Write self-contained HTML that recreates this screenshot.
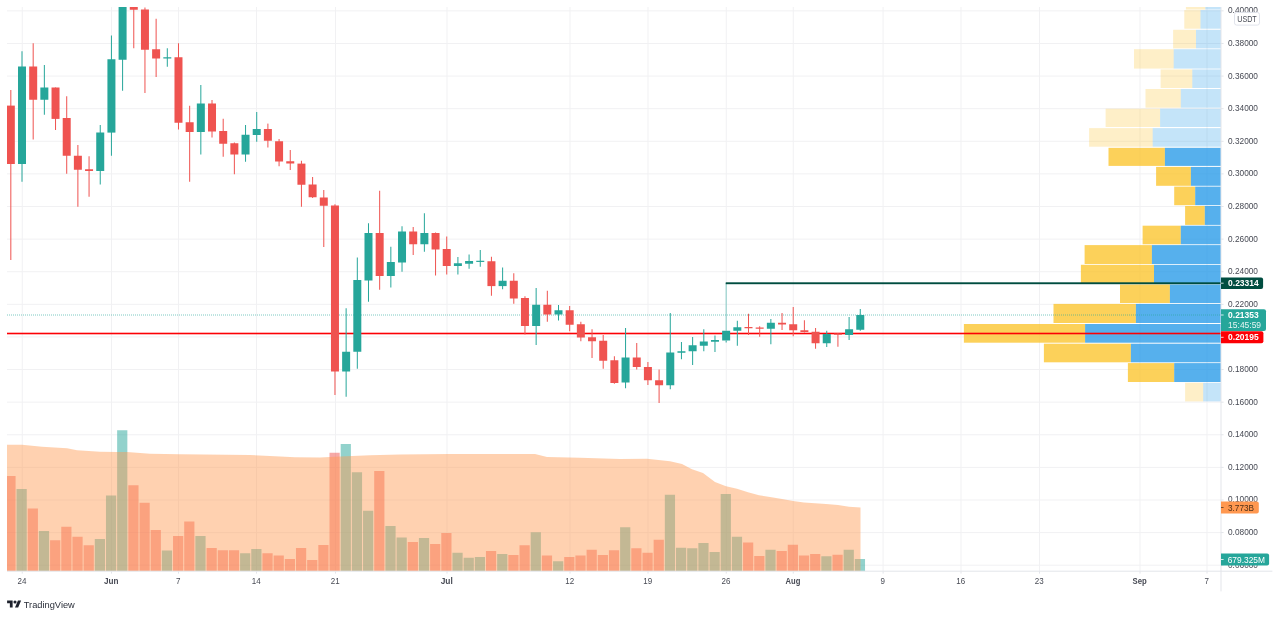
<!DOCTYPE html>
<html lang="en"><head><meta charset="utf-8"><title>TradingView chart</title>
<style>html,body{margin:0;padding:0;background:#fff;overflow:hidden}body{width:1280px;height:617px}svg{display:block}text{font-family:"Liberation Sans","DejaVu Sans",sans-serif}</style>
</head><body>
<svg width="1280" height="617" viewBox="0 0 1280 617">
<rect width="1280" height="617" fill="#fff"/>
<defs><clipPath id="cp"><rect x="7" y="7" width="1214" height="564.2"/></clipPath></defs>
<g stroke="#f1f1f3" stroke-width="1" shape-rendering="auto">
<line x1="7" y1="10.85" x2="1221" y2="10.85"/>
<line x1="7" y1="43.46" x2="1221" y2="43.46"/>
<line x1="7" y1="76.07" x2="1221" y2="76.07"/>
<line x1="7" y1="108.68" x2="1221" y2="108.68"/>
<line x1="7" y1="141.29" x2="1221" y2="141.29"/>
<line x1="7" y1="173.89" x2="1221" y2="173.89"/>
<line x1="7" y1="206.50" x2="1221" y2="206.50"/>
<line x1="7" y1="239.11" x2="1221" y2="239.11"/>
<line x1="7" y1="271.72" x2="1221" y2="271.72"/>
<line x1="7" y1="304.33" x2="1221" y2="304.33"/>
<line x1="7" y1="336.94" x2="1221" y2="336.94"/>
<line x1="7" y1="369.55" x2="1221" y2="369.55"/>
<line x1="7" y1="402.16" x2="1221" y2="402.16"/>
<line x1="7" y1="434.77" x2="1221" y2="434.77"/>
<line x1="7" y1="467.38" x2="1221" y2="467.38"/>
<line x1="7" y1="499.99" x2="1221" y2="499.99"/>
<line x1="7" y1="532.59" x2="1221" y2="532.59"/>
<line x1="7" y1="565.20" x2="1221" y2="565.20"/>
<line x1="22.25" y1="7" x2="22.25" y2="571.2"/>
<line x1="111.50" y1="7" x2="111.50" y2="571.2"/>
<line x1="178.50" y1="7" x2="178.50" y2="571.2"/>
<line x1="256.50" y1="7" x2="256.50" y2="571.2"/>
<line x1="335.50" y1="7" x2="335.50" y2="571.2"/>
<line x1="447.00" y1="7" x2="447.00" y2="571.2"/>
<line x1="570.00" y1="7" x2="570.00" y2="571.2"/>
<line x1="648.00" y1="7" x2="648.00" y2="571.2"/>
<line x1="726.25" y1="7" x2="726.25" y2="571.2"/>
<line x1="793.25" y1="7" x2="793.25" y2="571.2"/>
<line x1="883.10" y1="7" x2="883.10" y2="571.2"/>
<line x1="961.00" y1="7" x2="961.00" y2="571.2"/>
<line x1="1039.50" y1="7" x2="1039.50" y2="571.2"/>
<line x1="1140.00" y1="7" x2="1140.00" y2="571.2"/>
<line x1="1207.00" y1="7" x2="1207.00" y2="571.2"/>
</g>
<g clip-path="url(#cp)">
<rect x="1185.9" y="7.0" width="19.4" height="2.6" fill="rgba(251,193,35,0.25)"/>
<rect x="1205.3" y="7.0" width="15.7" height="2.6" fill="rgba(21,146,230,0.25)"/>
<rect x="1184.3" y="10.1" width="16.2" height="18.6" fill="rgba(251,193,35,0.25)"/>
<rect x="1200.5" y="10.1" width="20.5" height="18.6" fill="rgba(21,146,230,0.25)"/>
<rect x="1173.1" y="29.8" width="22.9" height="18.6" fill="rgba(251,193,35,0.25)"/>
<rect x="1196.0" y="29.8" width="25.0" height="18.6" fill="rgba(21,146,230,0.25)"/>
<rect x="1134.0" y="49.2" width="39.7" height="19.4" fill="rgba(251,193,35,0.25)"/>
<rect x="1173.7" y="49.2" width="47.3" height="19.4" fill="rgba(21,146,230,0.25)"/>
<rect x="1160.6" y="69.4" width="31.7" height="18.6" fill="rgba(251,193,35,0.25)"/>
<rect x="1192.3" y="69.4" width="28.7" height="18.6" fill="rgba(21,146,230,0.25)"/>
<rect x="1145.5" y="89.0" width="35.3" height="18.7" fill="rgba(251,193,35,0.25)"/>
<rect x="1180.8" y="89.0" width="40.2" height="18.7" fill="rgba(21,146,230,0.25)"/>
<rect x="1105.6" y="108.7" width="54.5" height="18.3" fill="rgba(251,193,35,0.25)"/>
<rect x="1160.1" y="108.7" width="60.9" height="18.3" fill="rgba(21,146,230,0.25)"/>
<rect x="1089.1" y="128.1" width="63.6" height="18.6" fill="rgba(251,193,35,0.25)"/>
<rect x="1152.7" y="128.1" width="68.3" height="18.6" fill="rgba(21,146,230,0.25)"/>
<rect x="1108.5" y="147.8" width="56.4" height="18.1" fill="rgba(251,193,35,0.75)"/>
<rect x="1164.9" y="147.8" width="56.1" height="18.1" fill="rgba(21,146,230,0.72)"/>
<rect x="1156.1" y="166.9" width="34.8" height="18.9" fill="rgba(251,193,35,0.75)"/>
<rect x="1190.9" y="166.9" width="30.1" height="18.9" fill="rgba(21,146,230,0.72)"/>
<rect x="1174.2" y="186.6" width="21.0" height="18.6" fill="rgba(251,193,35,0.75)"/>
<rect x="1195.2" y="186.6" width="25.8" height="18.6" fill="rgba(21,146,230,0.72)"/>
<rect x="1185.1" y="206.0" width="19.7" height="18.9" fill="rgba(251,193,35,0.75)"/>
<rect x="1204.8" y="206.0" width="16.2" height="18.9" fill="rgba(21,146,230,0.72)"/>
<rect x="1142.6" y="225.7" width="38.2" height="18.6" fill="rgba(251,193,35,0.75)"/>
<rect x="1180.8" y="225.7" width="40.2" height="18.6" fill="rgba(21,146,230,0.72)"/>
<rect x="1084.6" y="245.1" width="67.3" height="18.9" fill="rgba(251,193,35,0.75)"/>
<rect x="1151.9" y="245.1" width="69.1" height="18.9" fill="rgba(21,146,230,0.72)"/>
<rect x="1080.9" y="264.8" width="73.1" height="18.6" fill="rgba(251,193,35,0.75)"/>
<rect x="1154.0" y="264.8" width="67.0" height="18.6" fill="rgba(21,146,230,0.72)"/>
<rect x="1120.0" y="284.5" width="49.9" height="18.5" fill="rgba(251,193,35,0.75)"/>
<rect x="1169.9" y="284.5" width="51.1" height="18.5" fill="rgba(21,146,230,0.72)"/>
<rect x="1053.5" y="303.9" width="82.4" height="19.1" fill="rgba(251,193,35,0.75)"/>
<rect x="1135.9" y="303.9" width="85.1" height="19.1" fill="rgba(21,146,230,0.72)"/>
<rect x="963.9" y="324.0" width="121.2" height="18.7" fill="rgba(251,193,35,0.75)"/>
<rect x="1085.1" y="324.0" width="135.9" height="18.7" fill="rgba(21,146,230,0.72)"/>
<rect x="1043.9" y="343.7" width="87.0" height="18.6" fill="rgba(251,193,35,0.75)"/>
<rect x="1130.9" y="343.7" width="90.1" height="18.6" fill="rgba(21,146,230,0.72)"/>
<rect x="1127.9" y="363.1" width="46.3" height="18.9" fill="rgba(251,193,35,0.75)"/>
<rect x="1174.2" y="363.1" width="46.8" height="18.9" fill="rgba(21,146,230,0.72)"/>
<rect x="1185.1" y="382.8" width="18.1" height="18.6" fill="rgba(251,193,35,0.25)"/>
<rect x="1203.2" y="382.8" width="17.8" height="18.6" fill="rgba(21,146,230,0.25)"/>
<rect x="5.37" y="476.00" width="10.2" height="95.20" fill="rgba(239,83,80,0.5)"/>
<rect x="16.55" y="489.00" width="10.2" height="82.20" fill="rgba(38,166,154,0.5)"/>
<rect x="27.73" y="508.50" width="10.2" height="62.70" fill="rgba(239,83,80,0.5)"/>
<rect x="38.90" y="531.00" width="10.2" height="40.20" fill="rgba(38,166,154,0.5)"/>
<rect x="50.08" y="540.25" width="10.2" height="30.95" fill="rgba(239,83,80,0.5)"/>
<rect x="61.26" y="526.75" width="10.2" height="44.45" fill="rgba(239,83,80,0.5)"/>
<rect x="72.43" y="536.75" width="10.2" height="34.45" fill="rgba(239,83,80,0.5)"/>
<rect x="83.61" y="545.25" width="10.2" height="25.95" fill="rgba(239,83,80,0.5)"/>
<rect x="94.79" y="539.00" width="10.2" height="32.20" fill="rgba(38,166,154,0.5)"/>
<rect x="105.97" y="495.50" width="10.2" height="75.70" fill="rgba(38,166,154,0.5)"/>
<rect x="117.14" y="430.25" width="10.2" height="140.95" fill="rgba(38,166,154,0.5)"/>
<rect x="128.32" y="485.25" width="10.2" height="85.95" fill="rgba(239,83,80,0.5)"/>
<rect x="139.50" y="502.75" width="10.2" height="68.45" fill="rgba(239,83,80,0.5)"/>
<rect x="150.67" y="530.00" width="10.2" height="41.20" fill="rgba(239,83,80,0.5)"/>
<rect x="161.85" y="550.50" width="10.2" height="20.70" fill="rgba(38,166,154,0.5)"/>
<rect x="173.03" y="536.00" width="10.2" height="35.20" fill="rgba(239,83,80,0.5)"/>
<rect x="184.21" y="521.50" width="10.2" height="49.70" fill="rgba(239,83,80,0.5)"/>
<rect x="195.38" y="536.00" width="10.2" height="35.20" fill="rgba(38,166,154,0.5)"/>
<rect x="206.56" y="548.00" width="10.2" height="23.20" fill="rgba(239,83,80,0.5)"/>
<rect x="217.74" y="550.25" width="10.2" height="20.95" fill="rgba(239,83,80,0.5)"/>
<rect x="228.91" y="550.25" width="10.2" height="20.95" fill="rgba(239,83,80,0.5)"/>
<rect x="240.09" y="553.25" width="10.2" height="17.95" fill="rgba(38,166,154,0.5)"/>
<rect x="251.27" y="549.00" width="10.2" height="22.20" fill="rgba(38,166,154,0.5)"/>
<rect x="262.44" y="553.25" width="10.2" height="17.95" fill="rgba(239,83,80,0.5)"/>
<rect x="273.62" y="555.50" width="10.2" height="15.70" fill="rgba(239,83,80,0.5)"/>
<rect x="284.80" y="559.00" width="10.2" height="12.20" fill="rgba(239,83,80,0.5)"/>
<rect x="295.98" y="548.00" width="10.2" height="23.20" fill="rgba(239,83,80,0.5)"/>
<rect x="307.15" y="560.00" width="10.2" height="11.20" fill="rgba(239,83,80,0.5)"/>
<rect x="318.33" y="545.00" width="10.2" height="26.20" fill="rgba(239,83,80,0.5)"/>
<rect x="329.51" y="452.75" width="10.2" height="118.45" fill="rgba(239,83,80,0.5)"/>
<rect x="340.68" y="444.00" width="10.2" height="127.20" fill="rgba(38,166,154,0.5)"/>
<rect x="351.86" y="472.25" width="10.2" height="98.95" fill="rgba(38,166,154,0.5)"/>
<rect x="363.04" y="510.75" width="10.2" height="60.45" fill="rgba(38,166,154,0.5)"/>
<rect x="374.21" y="471.00" width="10.2" height="100.20" fill="rgba(239,83,80,0.5)"/>
<rect x="385.39" y="526.00" width="10.2" height="45.20" fill="rgba(38,166,154,0.5)"/>
<rect x="396.57" y="537.50" width="10.2" height="33.70" fill="rgba(38,166,154,0.5)"/>
<rect x="407.75" y="542.00" width="10.2" height="29.20" fill="rgba(239,83,80,0.5)"/>
<rect x="418.92" y="538.00" width="10.2" height="33.20" fill="rgba(38,166,154,0.5)"/>
<rect x="430.10" y="544.00" width="10.2" height="27.20" fill="rgba(239,83,80,0.5)"/>
<rect x="441.28" y="533.00" width="10.2" height="38.20" fill="rgba(239,83,80,0.5)"/>
<rect x="452.45" y="552.75" width="10.2" height="18.45" fill="rgba(38,166,154,0.5)"/>
<rect x="463.63" y="557.75" width="10.2" height="13.45" fill="rgba(38,166,154,0.5)"/>
<rect x="474.81" y="557.00" width="10.2" height="14.20" fill="rgba(38,166,154,0.5)"/>
<rect x="485.98" y="551.00" width="10.2" height="20.20" fill="rgba(239,83,80,0.5)"/>
<rect x="497.16" y="554.00" width="10.2" height="17.20" fill="rgba(38,166,154,0.5)"/>
<rect x="508.34" y="555.00" width="10.2" height="16.20" fill="rgba(239,83,80,0.5)"/>
<rect x="519.51" y="545.25" width="10.2" height="25.95" fill="rgba(239,83,80,0.5)"/>
<rect x="530.69" y="532.25" width="10.2" height="38.95" fill="rgba(38,166,154,0.5)"/>
<rect x="541.87" y="555.50" width="10.2" height="15.70" fill="rgba(239,83,80,0.5)"/>
<rect x="553.05" y="561.25" width="10.2" height="9.95" fill="rgba(38,166,154,0.5)"/>
<rect x="564.22" y="557.00" width="10.2" height="14.20" fill="rgba(239,83,80,0.5)"/>
<rect x="575.40" y="555.50" width="10.2" height="15.70" fill="rgba(239,83,80,0.5)"/>
<rect x="586.58" y="549.75" width="10.2" height="21.45" fill="rgba(239,83,80,0.5)"/>
<rect x="597.75" y="555.00" width="10.2" height="16.20" fill="rgba(239,83,80,0.5)"/>
<rect x="608.93" y="550.25" width="10.2" height="20.95" fill="rgba(239,83,80,0.5)"/>
<rect x="620.11" y="527.25" width="10.2" height="43.95" fill="rgba(38,166,154,0.5)"/>
<rect x="631.28" y="548.25" width="10.2" height="22.95" fill="rgba(239,83,80,0.5)"/>
<rect x="642.46" y="552.75" width="10.2" height="18.45" fill="rgba(239,83,80,0.5)"/>
<rect x="653.64" y="539.75" width="10.2" height="31.45" fill="rgba(239,83,80,0.5)"/>
<rect x="664.82" y="494.75" width="10.2" height="76.45" fill="rgba(38,166,154,0.5)"/>
<rect x="675.99" y="547.75" width="10.2" height="23.45" fill="rgba(38,166,154,0.5)"/>
<rect x="687.17" y="548.25" width="10.2" height="22.95" fill="rgba(38,166,154,0.5)"/>
<rect x="698.35" y="543.00" width="10.2" height="28.20" fill="rgba(38,166,154,0.5)"/>
<rect x="709.52" y="552.00" width="10.2" height="19.20" fill="rgba(38,166,154,0.5)"/>
<rect x="720.70" y="494.00" width="10.2" height="77.20" fill="rgba(38,166,154,0.5)"/>
<rect x="731.88" y="536.75" width="10.2" height="34.45" fill="rgba(38,166,154,0.5)"/>
<rect x="743.05" y="542.50" width="10.2" height="28.70" fill="rgba(239,83,80,0.5)"/>
<rect x="754.23" y="556.00" width="10.2" height="15.20" fill="rgba(239,83,80,0.5)"/>
<rect x="765.41" y="549.75" width="10.2" height="21.45" fill="rgba(38,166,154,0.5)"/>
<rect x="776.59" y="551.00" width="10.2" height="20.20" fill="rgba(239,83,80,0.5)"/>
<rect x="787.76" y="544.75" width="10.2" height="26.45" fill="rgba(239,83,80,0.5)"/>
<rect x="798.94" y="555.50" width="10.2" height="15.70" fill="rgba(239,83,80,0.5)"/>
<rect x="810.12" y="554.00" width="10.2" height="17.20" fill="rgba(239,83,80,0.5)"/>
<rect x="821.29" y="556.25" width="10.2" height="14.95" fill="rgba(38,166,154,0.5)"/>
<rect x="832.47" y="554.75" width="10.2" height="16.45" fill="rgba(239,83,80,0.5)"/>
<rect x="843.65" y="549.75" width="10.2" height="21.45" fill="rgba(38,166,154,0.5)"/>
<rect x="854.82" y="559.00" width="10.2" height="12.20" fill="rgba(38,166,154,0.5)"/>
<polygon points="7,444.75 22,444.75 42,446.75 67,448.25 77,450.25 100,451.75 117,452 127,452 150,453.75 180,454.25 250,455 275,456.25 295,457.25 320,457.5 335,456.75 370,455.25 400,454.5 450,454 535,454 547,457 580,457.75 620,459 647,458.75 670,461.25 682,464 692,469.25 703,473 715,482 726,486.25 737,488.75 748,492.25 759,495.25 770,497 782,499 793,501 804,502.5 815,503.25 826,504 838,505 849,506.75 860.5,507.5 860.5,571.2 7,571.2" fill="rgba(255,152,80,0.45)"/>
<line x1="7" y1="315" x2="1221" y2="315" stroke="#26a69a" stroke-opacity="0.6" stroke-width="1" stroke-dasharray="1 1"/>
<rect x="0" y="332.7" width="1221" height="1.6" fill="#fc0005"/>
<rect x="10.32" y="90.00" width="1" height="170.00" fill="#ef5350"/>
<rect x="6.82" y="105.60" width="8" height="58.40" fill="#ef5350"/>
<rect x="21.50" y="51.25" width="1" height="130.50" fill="#26a69a"/>
<rect x="18.00" y="66.50" width="8" height="97.50" fill="#26a69a"/>
<rect x="32.68" y="43.25" width="1" height="96.25" fill="#ef5350"/>
<rect x="29.18" y="66.50" width="8" height="33.25" fill="#ef5350"/>
<rect x="43.85" y="65.00" width="1" height="49.75" fill="#26a69a"/>
<rect x="40.35" y="87.50" width="8" height="12.25" fill="#26a69a"/>
<rect x="55.03" y="87.50" width="1" height="42.50" fill="#ef5350"/>
<rect x="51.53" y="87.50" width="8" height="31.40" fill="#ef5350"/>
<rect x="66.21" y="96.25" width="1" height="77.50" fill="#ef5350"/>
<rect x="62.71" y="118.00" width="8" height="37.75" fill="#ef5350"/>
<rect x="77.38" y="145.00" width="1" height="61.75" fill="#ef5350"/>
<rect x="73.88" y="155.75" width="8" height="14.00" fill="#ef5350"/>
<rect x="88.56" y="156.25" width="1" height="40.50" fill="#ef5350"/>
<rect x="85.06" y="169.25" width="8" height="1.75" fill="#ef5350"/>
<rect x="99.74" y="125.00" width="1" height="59.50" fill="#26a69a"/>
<rect x="96.24" y="132.50" width="8" height="38.50" fill="#26a69a"/>
<rect x="110.92" y="35.50" width="1" height="120.25" fill="#26a69a"/>
<rect x="107.42" y="59.25" width="8" height="73.35" fill="#26a69a"/>
<rect x="122.09" y="0.00" width="1" height="90.75" fill="#26a69a"/>
<rect x="118.59" y="0.00" width="8" height="59.75" fill="#26a69a"/>
<rect x="133.27" y="0.00" width="1" height="48.25" fill="#ef5350"/>
<rect x="129.77" y="0.00" width="8" height="9.75" fill="#ef5350"/>
<rect x="144.45" y="7.50" width="1" height="85.50" fill="#ef5350"/>
<rect x="140.95" y="9.50" width="8" height="40.25" fill="#ef5350"/>
<rect x="155.62" y="18.75" width="1" height="58.25" fill="#ef5350"/>
<rect x="152.12" y="49.25" width="8" height="9.25" fill="#ef5350"/>
<rect x="166.80" y="48.25" width="1" height="18.50" fill="#26a69a"/>
<rect x="163.30" y="57.25" width="8" height="1.25" fill="#26a69a"/>
<rect x="177.98" y="43.25" width="1" height="86.25" fill="#ef5350"/>
<rect x="174.48" y="57.25" width="8" height="65.50" fill="#ef5350"/>
<rect x="189.16" y="105.75" width="1" height="76.00" fill="#ef5350"/>
<rect x="185.66" y="122.25" width="8" height="9.75" fill="#ef5350"/>
<rect x="200.33" y="85.00" width="1" height="69.50" fill="#26a69a"/>
<rect x="196.83" y="103.50" width="8" height="28.50" fill="#26a69a"/>
<rect x="211.51" y="100.00" width="1" height="37.50" fill="#ef5350"/>
<rect x="208.01" y="103.50" width="8" height="28.00" fill="#ef5350"/>
<rect x="222.69" y="118.75" width="1" height="38.00" fill="#ef5350"/>
<rect x="219.19" y="131.00" width="8" height="12.75" fill="#ef5350"/>
<rect x="233.86" y="142.50" width="1" height="31.75" fill="#ef5350"/>
<rect x="230.36" y="143.25" width="8" height="11.25" fill="#ef5350"/>
<rect x="245.04" y="125.00" width="1" height="36.75" fill="#26a69a"/>
<rect x="241.54" y="134.75" width="8" height="19.75" fill="#26a69a"/>
<rect x="256.22" y="112.00" width="1" height="29.75" fill="#26a69a"/>
<rect x="252.72" y="129.00" width="8" height="6.00" fill="#26a69a"/>
<rect x="267.39" y="123.60" width="1" height="23.90" fill="#ef5350"/>
<rect x="263.89" y="129.00" width="8" height="11.75" fill="#ef5350"/>
<rect x="278.57" y="139.00" width="1" height="27.25" fill="#ef5350"/>
<rect x="275.07" y="141.25" width="8" height="20.25" fill="#ef5350"/>
<rect x="289.75" y="150.00" width="1" height="20.00" fill="#ef5350"/>
<rect x="286.25" y="161.25" width="8" height="2.25" fill="#ef5350"/>
<rect x="300.93" y="160.75" width="1" height="46.00" fill="#ef5350"/>
<rect x="297.43" y="163.60" width="8" height="21.15" fill="#ef5350"/>
<rect x="312.10" y="177.00" width="1" height="21.00" fill="#ef5350"/>
<rect x="308.60" y="184.50" width="8" height="12.75" fill="#ef5350"/>
<rect x="323.28" y="190.00" width="1" height="57.00" fill="#ef5350"/>
<rect x="319.78" y="197.50" width="8" height="8.25" fill="#ef5350"/>
<rect x="334.46" y="204.25" width="1" height="190.75" fill="#ef5350"/>
<rect x="330.96" y="205.50" width="8" height="166.00" fill="#ef5350"/>
<rect x="345.63" y="308.25" width="1" height="88.50" fill="#26a69a"/>
<rect x="342.13" y="351.75" width="8" height="19.75" fill="#26a69a"/>
<rect x="356.81" y="257.50" width="1" height="111.25" fill="#26a69a"/>
<rect x="353.31" y="280.00" width="8" height="71.75" fill="#26a69a"/>
<rect x="367.99" y="223.25" width="1" height="78.50" fill="#26a69a"/>
<rect x="364.49" y="233.00" width="8" height="47.50" fill="#26a69a"/>
<rect x="379.16" y="190.75" width="1" height="99.00" fill="#ef5350"/>
<rect x="375.66" y="233.00" width="8" height="43.00" fill="#ef5350"/>
<rect x="390.34" y="246.75" width="1" height="40.75" fill="#26a69a"/>
<rect x="386.84" y="262.00" width="8" height="14.00" fill="#26a69a"/>
<rect x="401.52" y="226.25" width="1" height="45.50" fill="#26a69a"/>
<rect x="398.02" y="231.50" width="8" height="31.00" fill="#26a69a"/>
<rect x="412.69" y="227.00" width="1" height="28.00" fill="#ef5350"/>
<rect x="409.19" y="231.50" width="8" height="12.75" fill="#ef5350"/>
<rect x="423.87" y="213.25" width="1" height="38.50" fill="#26a69a"/>
<rect x="420.37" y="233.00" width="8" height="11.25" fill="#26a69a"/>
<rect x="435.05" y="232.50" width="1" height="43.00" fill="#ef5350"/>
<rect x="431.55" y="233.00" width="8" height="16.50" fill="#ef5350"/>
<rect x="446.23" y="236.50" width="1" height="38.00" fill="#ef5350"/>
<rect x="442.73" y="249.00" width="8" height="17.00" fill="#ef5350"/>
<rect x="457.40" y="257.00" width="1" height="17.50" fill="#26a69a"/>
<rect x="453.90" y="263.25" width="8" height="2.75" fill="#26a69a"/>
<rect x="468.58" y="254.50" width="1" height="14.25" fill="#26a69a"/>
<rect x="465.08" y="261.00" width="8" height="2.75" fill="#26a69a"/>
<rect x="479.76" y="250.00" width="1" height="16.75" fill="#26a69a"/>
<rect x="476.26" y="260.75" width="8" height="1.20" fill="#26a69a"/>
<rect x="490.93" y="256.75" width="1" height="39.00" fill="#ef5350"/>
<rect x="487.43" y="261.25" width="8" height="24.85" fill="#ef5350"/>
<rect x="502.11" y="267.50" width="1" height="21.75" fill="#26a69a"/>
<rect x="498.61" y="280.75" width="8" height="5.35" fill="#26a69a"/>
<rect x="513.29" y="273.25" width="1" height="30.50" fill="#ef5350"/>
<rect x="509.79" y="280.75" width="8" height="17.75" fill="#ef5350"/>
<rect x="524.46" y="296.25" width="1" height="38.25" fill="#ef5350"/>
<rect x="520.96" y="298.00" width="8" height="28.00" fill="#ef5350"/>
<rect x="535.64" y="288.00" width="1" height="57.00" fill="#26a69a"/>
<rect x="532.14" y="304.75" width="8" height="21.25" fill="#26a69a"/>
<rect x="546.82" y="290.75" width="1" height="31.00" fill="#ef5350"/>
<rect x="543.32" y="304.75" width="8" height="9.75" fill="#ef5350"/>
<rect x="558.00" y="305.00" width="1" height="15.50" fill="#26a69a"/>
<rect x="554.50" y="310.25" width="8" height="4.25" fill="#26a69a"/>
<rect x="569.17" y="306.00" width="1" height="25.25" fill="#ef5350"/>
<rect x="565.67" y="310.25" width="8" height="14.50" fill="#ef5350"/>
<rect x="580.35" y="321.75" width="1" height="19.50" fill="#ef5350"/>
<rect x="576.85" y="324.25" width="8" height="13.25" fill="#ef5350"/>
<rect x="591.53" y="329.25" width="1" height="28.75" fill="#ef5350"/>
<rect x="588.03" y="337.25" width="8" height="4.00" fill="#ef5350"/>
<rect x="602.70" y="335.00" width="1" height="33.75" fill="#ef5350"/>
<rect x="599.20" y="340.75" width="8" height="20.00" fill="#ef5350"/>
<rect x="613.88" y="356.25" width="1" height="27.50" fill="#ef5350"/>
<rect x="610.38" y="360.25" width="8" height="22.75" fill="#ef5350"/>
<rect x="625.06" y="328.00" width="1" height="60.25" fill="#26a69a"/>
<rect x="621.56" y="357.50" width="8" height="25.00" fill="#26a69a"/>
<rect x="636.24" y="343.00" width="1" height="26.50" fill="#ef5350"/>
<rect x="632.74" y="357.50" width="8" height="9.50" fill="#ef5350"/>
<rect x="647.41" y="362.00" width="1" height="23.00" fill="#ef5350"/>
<rect x="643.91" y="367.00" width="8" height="13.25" fill="#ef5350"/>
<rect x="658.59" y="369.50" width="1" height="33.50" fill="#ef5350"/>
<rect x="655.09" y="380.25" width="8" height="5.00" fill="#ef5350"/>
<rect x="669.77" y="313.00" width="1" height="76.25" fill="#26a69a"/>
<rect x="666.27" y="352.50" width="8" height="32.75" fill="#26a69a"/>
<rect x="680.94" y="342.00" width="1" height="17.25" fill="#26a69a"/>
<rect x="677.44" y="351.25" width="8" height="1.50" fill="#26a69a"/>
<rect x="692.12" y="337.00" width="1" height="28.00" fill="#26a69a"/>
<rect x="688.62" y="345.25" width="8" height="6.00" fill="#26a69a"/>
<rect x="703.30" y="329.25" width="1" height="22.00" fill="#26a69a"/>
<rect x="699.80" y="341.50" width="8" height="4.25" fill="#26a69a"/>
<rect x="714.47" y="335.50" width="1" height="16.50" fill="#26a69a"/>
<rect x="710.97" y="340.00" width="8" height="1.75" fill="#26a69a"/>
<rect x="725.65" y="283.00" width="1" height="47.75" fill="#26a69a" fill-opacity="0.55"/>
<rect x="725.65" y="340.50" width="1" height="2.00" fill="#26a69a"/>
<rect x="722.15" y="330.75" width="8" height="9.75" fill="#26a69a"/>
<rect x="736.83" y="320.75" width="1" height="25.00" fill="#26a69a"/>
<rect x="733.33" y="327.25" width="8" height="3.50" fill="#26a69a"/>
<rect x="748.00" y="313.75" width="1" height="21.25" fill="#ef5350"/>
<rect x="744.50" y="327.00" width="8" height="1.25" fill="#ef5350"/>
<rect x="759.18" y="326.25" width="1" height="10.50" fill="#ef5350"/>
<rect x="755.68" y="327.50" width="8" height="1.25" fill="#ef5350"/>
<rect x="770.36" y="319.00" width="1" height="25.25" fill="#26a69a"/>
<rect x="766.86" y="322.75" width="8" height="6.00" fill="#26a69a"/>
<rect x="781.54" y="313.00" width="1" height="17.00" fill="#ef5350"/>
<rect x="778.04" y="322.75" width="8" height="1.75" fill="#ef5350"/>
<rect x="792.71" y="307.00" width="1" height="29.25" fill="#ef5350"/>
<rect x="789.21" y="324.25" width="8" height="6.00" fill="#ef5350"/>
<rect x="803.89" y="320.25" width="1" height="12.25" fill="#ef5350"/>
<rect x="800.39" y="330.25" width="8" height="1.75" fill="#ef5350"/>
<rect x="815.07" y="328.00" width="1" height="20.75" fill="#ef5350"/>
<rect x="811.57" y="331.75" width="8" height="11.50" fill="#ef5350"/>
<rect x="826.24" y="330.75" width="1" height="16.25" fill="#26a69a"/>
<rect x="822.74" y="334.00" width="8" height="9.25" fill="#26a69a"/>
<rect x="837.42" y="333.00" width="1" height="13.75" fill="#ef5350"/>
<rect x="833.92" y="333.50" width="8" height="1.25" fill="#ef5350"/>
<rect x="848.60" y="317.00" width="1" height="23.00" fill="#26a69a"/>
<rect x="845.10" y="329.25" width="8" height="5.75" fill="#26a69a"/>
<rect x="859.77" y="309.00" width="1" height="21.75" fill="#26a69a"/>
<rect x="856.27" y="315.00" width="8" height="14.75" fill="#26a69a"/>
<rect x="725.75" y="282.3" width="496" height="1.9" fill="#004d40"/>
</g>
<g stroke="#e3e5ea" stroke-width="1">
<line x1="7" y1="571.2" x2="1272.4" y2="571.2"/>
<line x1="1221" y1="7" x2="1221" y2="591.4"/>
</g>
<g stroke="#e3e5ea" stroke-width="1">
<line x1="22.25" y1="571.2" x2="22.25" y2="573.6"/>
<line x1="111.50" y1="571.2" x2="111.50" y2="573.6"/>
<line x1="178.50" y1="571.2" x2="178.50" y2="573.6"/>
<line x1="256.50" y1="571.2" x2="256.50" y2="573.6"/>
<line x1="335.50" y1="571.2" x2="335.50" y2="573.6"/>
<line x1="447.00" y1="571.2" x2="447.00" y2="573.6"/>
<line x1="570.00" y1="571.2" x2="570.00" y2="573.6"/>
<line x1="648.00" y1="571.2" x2="648.00" y2="573.6"/>
<line x1="726.25" y1="571.2" x2="726.25" y2="573.6"/>
<line x1="793.25" y1="571.2" x2="793.25" y2="573.6"/>
<line x1="883.10" y1="571.2" x2="883.10" y2="573.6"/>
<line x1="961.00" y1="571.2" x2="961.00" y2="573.6"/>
<line x1="1039.50" y1="571.2" x2="1039.50" y2="573.6"/>
<line x1="1140.00" y1="571.2" x2="1140.00" y2="573.6"/>
<line x1="1207.00" y1="571.2" x2="1207.00" y2="573.6"/>
<line x1="1221" y1="10.85" x2="1223.6" y2="10.85"/>
<line x1="1221" y1="43.46" x2="1223.6" y2="43.46"/>
<line x1="1221" y1="76.07" x2="1223.6" y2="76.07"/>
<line x1="1221" y1="108.68" x2="1223.6" y2="108.68"/>
<line x1="1221" y1="141.29" x2="1223.6" y2="141.29"/>
<line x1="1221" y1="173.89" x2="1223.6" y2="173.89"/>
<line x1="1221" y1="206.50" x2="1223.6" y2="206.50"/>
<line x1="1221" y1="239.11" x2="1223.6" y2="239.11"/>
<line x1="1221" y1="271.72" x2="1223.6" y2="271.72"/>
<line x1="1221" y1="304.33" x2="1223.6" y2="304.33"/>
<line x1="1221" y1="336.94" x2="1223.6" y2="336.94"/>
<line x1="1221" y1="369.55" x2="1223.6" y2="369.55"/>
<line x1="1221" y1="402.16" x2="1223.6" y2="402.16"/>
<line x1="1221" y1="434.77" x2="1223.6" y2="434.77"/>
<line x1="1221" y1="467.38" x2="1223.6" y2="467.38"/>
<line x1="1221" y1="499.99" x2="1223.6" y2="499.99"/>
<line x1="1221" y1="532.59" x2="1223.6" y2="532.59"/>
<line x1="1221" y1="565.20" x2="1223.6" y2="565.20"/>
</g>
<text x="17.50" y="584" font-size="9" textLength="8.90" lengthAdjust="spacingAndGlyphs" fill="#474a54">24</text>
<text x="103.95" y="584" font-size="9" textLength="14.50" lengthAdjust="spacingAndGlyphs" fill="#474a54" font-weight="700">Jun</text>
<text x="175.97" y="584" font-size="9" textLength="4.45" lengthAdjust="spacingAndGlyphs" fill="#474a54">7</text>
<text x="251.75" y="584" font-size="9" textLength="8.90" lengthAdjust="spacingAndGlyphs" fill="#474a54">14</text>
<text x="330.75" y="584" font-size="9" textLength="8.90" lengthAdjust="spacingAndGlyphs" fill="#474a54">21</text>
<text x="440.65" y="584" font-size="9" textLength="12.10" lengthAdjust="spacingAndGlyphs" fill="#474a54" font-weight="700">Jul</text>
<text x="565.25" y="584" font-size="9" textLength="8.90" lengthAdjust="spacingAndGlyphs" fill="#474a54">12</text>
<text x="643.25" y="584" font-size="9" textLength="8.90" lengthAdjust="spacingAndGlyphs" fill="#474a54">19</text>
<text x="721.50" y="584" font-size="9" textLength="8.90" lengthAdjust="spacingAndGlyphs" fill="#474a54">26</text>
<text x="785.55" y="584" font-size="9" textLength="14.80" lengthAdjust="spacingAndGlyphs" fill="#474a54" font-weight="700">Aug</text>
<text x="880.58" y="584" font-size="9" textLength="4.45" lengthAdjust="spacingAndGlyphs" fill="#474a54">9</text>
<text x="956.25" y="584" font-size="9" textLength="8.90" lengthAdjust="spacingAndGlyphs" fill="#474a54">16</text>
<text x="1034.75" y="584" font-size="9" textLength="8.90" lengthAdjust="spacingAndGlyphs" fill="#474a54">23</text>
<text x="1132.60" y="584" font-size="9" textLength="14.20" lengthAdjust="spacingAndGlyphs" fill="#474a54" font-weight="700">Sep</text>
<text x="1204.48" y="584" font-size="9" textLength="4.45" lengthAdjust="spacingAndGlyphs" fill="#474a54">7</text>
<text x="1228" y="13" font-size="9" textLength="30" lengthAdjust="spacingAndGlyphs" fill="#474a54">0.40000</text>
<text x="1228" y="46" font-size="9" textLength="30" lengthAdjust="spacingAndGlyphs" fill="#474a54">0.38000</text>
<text x="1228" y="79" font-size="9" textLength="30" lengthAdjust="spacingAndGlyphs" fill="#474a54">0.36000</text>
<text x="1228" y="111" font-size="9" textLength="30" lengthAdjust="spacingAndGlyphs" fill="#474a54">0.34000</text>
<text x="1228" y="144" font-size="9" textLength="30" lengthAdjust="spacingAndGlyphs" fill="#474a54">0.32000</text>
<text x="1228" y="176" font-size="9" textLength="30" lengthAdjust="spacingAndGlyphs" fill="#474a54">0.30000</text>
<text x="1228" y="209" font-size="9" textLength="30" lengthAdjust="spacingAndGlyphs" fill="#474a54">0.28000</text>
<text x="1228" y="242" font-size="9" textLength="30" lengthAdjust="spacingAndGlyphs" fill="#474a54">0.26000</text>
<text x="1228" y="274" font-size="9" textLength="30" lengthAdjust="spacingAndGlyphs" fill="#474a54">0.24000</text>
<text x="1228" y="307" font-size="9" textLength="30" lengthAdjust="spacingAndGlyphs" fill="#474a54">0.22000</text>
<text x="1228" y="339" font-size="9" textLength="30" lengthAdjust="spacingAndGlyphs" fill="#474a54">0.20000</text>
<text x="1228" y="372" font-size="9" textLength="30" lengthAdjust="spacingAndGlyphs" fill="#474a54">0.18000</text>
<text x="1228" y="405" font-size="9" textLength="30" lengthAdjust="spacingAndGlyphs" fill="#474a54">0.16000</text>
<text x="1228" y="437" font-size="9" textLength="30" lengthAdjust="spacingAndGlyphs" fill="#474a54">0.14000</text>
<text x="1228" y="470" font-size="9" textLength="30" lengthAdjust="spacingAndGlyphs" fill="#474a54">0.12000</text>
<text x="1228" y="502" font-size="9" textLength="30" lengthAdjust="spacingAndGlyphs" fill="#474a54">0.10000</text>
<text x="1228" y="535" font-size="9" textLength="30" lengthAdjust="spacingAndGlyphs" fill="#474a54">0.08000</text>
<text x="1228" y="568" font-size="9" textLength="30" lengthAdjust="spacingAndGlyphs" fill="#474a54">0.06000</text>
<rect x="1234.5" y="12.4" width="25" height="12.7" rx="2.2" fill="#fff" stroke="#e0e3eb" stroke-width="1"/>
<text x="1247" y="21.9" font-size="8.6" text-anchor="middle" textLength="19.5" lengthAdjust="spacingAndGlyphs" fill="#474a54">USDT</text>
<path d="M1221 501.4H1256.8a2 2 0 0 1 2 2V511.5a2 2 0 0 1 -2 2H1221Z" fill="#ff9850"/>
<line x1="1221" y1="507.5" x2="1223.6" y2="507.5" stroke="#5a3a20" stroke-width="0.8"/>
<text x="1228" y="510.6" font-size="8.8" textLength="26" lengthAdjust="spacingAndGlyphs" fill="#4d2f18">3.773B</text>
<path d="M1221 553.5H1267.1a2 2 0 0 1 2 2V563.6a2 2 0 0 1 -2 2H1221Z" fill="#26a69a"/>
<line x1="1221" y1="559.5" x2="1223.6" y2="559.5" stroke="#fff" stroke-width="0.8"/>
<text x="1227.7" y="562.7" font-size="8.8" textLength="37.3" lengthAdjust="spacingAndGlyphs" fill="#fff">679.325M</text>
<path d="M1221 277.4H1261.1a2 2 0 0 1 2 2V287.0a2 2 0 0 1 -2 2H1221Z" fill="#004d40"/>
<line x1="1221" y1="283.2" x2="1223.6" y2="283.2" stroke="#fff" stroke-width="0.8"/>
<text x="1228.1" y="286.4" font-size="8.8" font-weight="700" textLength="30.6" lengthAdjust="spacingAndGlyphs" fill="#fff">0.23314</text>
<path d="M1221 309.2H1264a2 2 0 0 1 2 2V328.9a2 2 0 0 1 -2 2H1221Z" fill="#26a69a"/>
<line x1="1221" y1="315" x2="1223.6" y2="315" stroke="#fff" stroke-width="0.8"/>
<text x="1228.1" y="318.2" font-size="8.8" font-weight="700" textLength="30.6" lengthAdjust="spacingAndGlyphs" fill="#fff">0.21353</text>
<text x="1228.1" y="328" font-size="8.8" textLength="33" lengthAdjust="spacingAndGlyphs" fill="#e6f5f3">15:45:59</text>
<path d="M1221 331.3H1261.4a2 2 0 0 1 2 2V341.3a2 2 0 0 1 -2 2H1221Z" fill="#fc0005"/>
<line x1="1221" y1="337.3" x2="1223.6" y2="337.3" stroke="#fff" stroke-width="0.8"/>
<text x="1228.1" y="340.4" font-size="8.8" font-weight="700" textLength="30.6" lengthAdjust="spacingAndGlyphs" fill="#fff">0.20195</text>
<g transform="translate(7.1,598.85) scale(0.395)" fill="#1e222d"><path d="M14 22H7V11H0V4h14v18zM28 22h-8l7.5-18h8L28 22z"/><circle cx="20" cy="8" r="4"/></g>
<text x="23.8" y="607.5" font-size="9.7" textLength="51" lengthAdjust="spacingAndGlyphs" fill="#2a2e39">TradingView</text>
</svg></body></html>
